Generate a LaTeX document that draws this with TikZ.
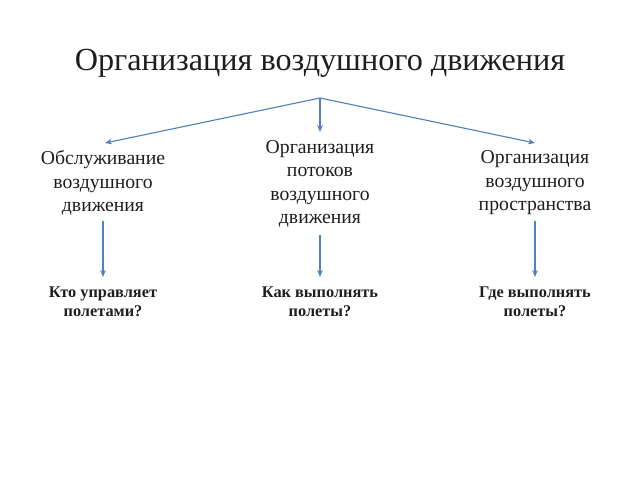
\documentclass[tikz,border=0pt]{standalone}
\usepackage{fontspec}
\setmainfont{Liberation Serif}
\usetikzlibrary{arrows.meta}
\usetikzlibrary{positioning}

\definecolor{arrowblue}{RGB}{79,129,189}
\definecolor{textgray}{RGB}{30,30,30}

\begin{document}
\begin{tikzpicture}[
	x = 0.025cm, y = -0.025cm,
	box/.style = {
	  align = center, text = textgray,
	  font = \fontsize{14pt}{16.7pt}\selectfont,
	  inner sep = 0pt,
	},
	answer/.style = {
	  align = center, text = textgray,
	  font = \fontsize{11.6pt}{13.5pt}\selectfont\bfseries,
	  inner sep = 0pt,
	},
	link/.style = {
	  arrowblue, line width = 0.8pt,
	  -{Stealth[length=5pt, width=4pt]},
	},
  ]

  \useasboundingbox (0,0) rectangle (640,480);

  \node[text = textgray, font = \fontsize{22.9pt}{26pt}\selectfont]
	(title) at (320,63) {Организация воздушного движения};

  \coordinate (fork) at (320,98);
  \coordinate (leftend) at (105,143);
  \coordinate (midend) at (320,132);
  \coordinate (rightend) at (535,143);

  \node[box] (service) at (103,183) {Обслуживание\\воздушного\\движения};
  \node[box] (flow) at (320,184) {Организация\\потоков\\воздушного\\движения};
  \node[box] (space) at (535,183) {Организация\\воздушного\\пространства};

  \node[answer] (who) at (103,302) {Кто управляет\\полетами?};
  \node[answer] (how) at (320,302) {Как выполнять\\полеты?};
  \node[answer] (where) at (535,302) {Где выполнять\\полеты?};

  \draw[link] (fork) -- (leftend);
  \draw[link] (fork) -- (midend);
  \draw[link] (fork) -- (rightend);

  \draw[link, shorten <= 4pt, shorten >= 7pt] (service) -- (who);
  \draw[link, shorten <= 5pt, shorten >= 7pt] (flow) -- (how);
  \draw[link, shorten <= 4pt, shorten >= 7pt] (space) -- (where);
\end{tikzpicture}
\end{document}
